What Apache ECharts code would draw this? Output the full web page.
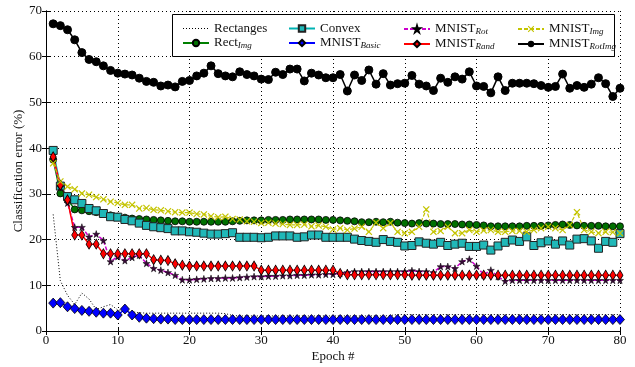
<!DOCTYPE html>
<html><head><meta charset="utf-8">
<script src="https://cdn.jsdelivr.net/npm/echarts@6/dist/echarts.min.js"></script>
<style>html,body{margin:0;padding:0;background:#fff}#c{width:635px;height:367px}</style>
</head><body><div id="c"></div>
<script>
const epochs = [1,2,3,4,5,6,7,8,9,10,11,12,13,14,15,16,17,18,19,20,21,22,23,24,25,26,27,28,29,30,31,32,33,34,35,36,37,38,39,40,41,42,43,44,45,46,47,48,49,50,51,52,53,54,55,56,57,58,59,60,61,62,63,64,65,66,67,68,69,70,71,72,73,74,75,76,77,78,79,80];
const xTicks = [0,10,20,30,40,50,60,70,80];
const yTicks = [0,10,20,30,40,50,60,70];

const rectanges = [25.5,11.0,7.8,5.8,8.3,7.0,4.7,5.3,5.8,4.6, 4.5,4.2,4.0,3.9,3.9,3.9,3.9,3.9,3.9,3.9, 3.9,3.9,3.9,3.9,3.8,3.4,3.3,3.3,3.3,3.3, 3.3,3.3,3.3,3.3,3.3,3.3,3.3,3.3,3.3,3.3, 3.3,3.3,3.3,3.3,3.3,3.3,3.3,3.4,3.6,3.6, 3.6,3.6,3.6,3.6,3.6,3.6,3.6,3.6,3.6,3.6, 3.6,3.6,3.6,3.6,3.6,3.6,3.6,3.6,3.6,3.6, 3.6,3.6,3.6,3.6,3.6,3.6,3.6,3.6,3.6,3.6];
const rectImg = [37.5,30.1,28.8,26.6,26.4,26.2,26.0,25.7,25.3,25.0, 24.8,24.6,24.5,24.4,24.3,24.2,24.1,24.0,24.0,23.9, 23.9,23.9,23.9,23.9,23.9,24.0,24.1,24.2,24.2,24.2, 24.3,24.3,24.3,24.4,24.4,24.4,24.4,24.4,24.3,24.3, 24.2,24.1,24.0,23.8,23.8,23.9,23.8,23.9,23.7,23.6, 23.5,23.6,23.5,23.5,23.4,23.4,23.4,23.3,23.3,23.2, 23.1,22.9,22.9,22.9,22.9,22.9,23.0,23.0,23.0,23.1, 23.2,23.3,23.2,23.1,23.0,23.0,23.0,22.9,22.9,22.9];
const convex = [39.5,31.7,29.4,28.7,27.9,26.8,26.3,25.7,25.0,24.9, 24.4,24.1,23.6,23.1,22.8,22.6,22.4,21.9,21.9,21.7, 21.6,21.4,21.2,21.2,21.3,21.5,20.5,20.5,20.5,20.4, 20.5,20.8,20.8,20.8,20.5,20.6,21.0,21.0,20.5,20.5, 20.5,20.5,20.1,19.8,19.6,19.4,20.0,19.6,19.4,18.6, 18.7,19.5,19.2,19.0,19.4,18.7,19.0,19.2,18.5,18.5, 18.8,17.7,18.6,19.4,19.9,19.6,20.6,18.7,19.3,19.7, 19.0,19.7,18.8,20.1,20.2,19.7,18.1,19.6,19.4,21.3];
const mnistBasic = [6.1,6.2,5.3,4.9,4.5,4.3,4.1,3.9,3.9,3.5, 4.8,3.5,3.0,2.8,2.7,2.6,2.6,2.5,2.5,2.5, 2.5,2.5,2.5,2.5,2.5,2.5,2.5,2.5,2.5,2.5, 2.5,2.5,2.5,2.5,2.5,2.5,2.5,2.5,2.5,2.5, 2.5,2.5,2.5,2.5,2.5,2.5,2.5,2.5,2.5,2.5, 2.5,2.5,2.5,2.5,2.5,2.5,2.5,2.5,2.5,2.5, 2.5,2.5,2.5,2.5,2.5,2.5,2.5,2.5,2.5,2.5, 2.5,2.5,2.5,2.5,2.5,2.5,2.5,2.5,2.5,2.5];
const mnistRot = [37.5,31.5,28.0,22.7,22.7,20.6,21.2,19.8,15.2,16.3, 15.4,16.1,16.6,14.8,13.7,13.3,12.8,12.2,11.2,11.2, 11.3,11.4,11.5,11.5,11.6,11.6,11.7,11.8,11.9,11.9, 12.0,12.0,12.1,12.1,12.2,12.2,12.3,12.3,12.4,12.4, 12.6,12.8,13.0,13.0,13.0,13.0,13.0,13.0,13.0,13.0, 13.2,13.0,13.0,12.8,14.1,14.1,13.7,15.2,15.7,14.2, 12.3,13.3,11.9,10.9,11.1,11.1,11.1,11.1,11.1,11.1, 11.1,11.1,11.1,11.1,11.1,11.1,11.1,11.1,11.1,11.1];
const mnistRand = [38.1,31.9,28.7,21.0,21.0,19.0,19.0,16.9,16.9,16.9, 16.9,16.9,16.9,16.9,15.6,15.5,15.4,14.7,14.4,14.2, 14.2,14.2,14.2,14.2,14.2,14.2,14.2,14.2,14.2,13.3, 13.3,13.3,13.3,13.3,13.3,13.3,13.3,13.3,13.3,13.3, 12.6,12.3,12.3,12.3,12.3,12.3,12.3,12.3,12.3,12.3, 12.2,12.2,12.2,12.2,12.2,12.2,12.2,12.2,12.2,12.2, 12.2,12.2,12.2,12.2,12.2,12.2,12.2,12.2,12.2,12.2, 12.2,12.2,12.2,12.2,12.2,12.2,12.2,12.2,12.2,12.2];
const mnistImg = [36.7,32.7,31.6,31.0,30.1,29.8,29.3,28.8,28.3,28.0, 27.6,27.6,26.8,26.9,26.5,26.4,26.2,26.0,25.9,25.9, 25.6,25.5,25.1,24.9,25.0,24.5,24.4,24.0,23.9,23.6, 23.7,23.5,23.4,23.2,23.2,23.3,22.9,23.1,22.8,22.2, 22.5,22.1,22.4,22.8,21.7,23.7,22.5,23.6,21.7,21.4, 21.7,22.8,26.6,21.7,21.9,22.8,21.4,21.4,22.1,21.7, 22.0,22.1,21.7,21.7,21.9,21.9,21.7,22.1,22.5,22.8, 22.5,22.1,23.2,26.0,22.1,21.7,21.4,21.7,21.6,21.4];
const mnistRotImg = [67.2,66.8,65.9,63.7,60.9,59.4,58.9,58.0,57.0,56.4, 56.2,56.0,55.3,54.6,54.4,53.6,53.8,53.4,54.6,54.8, 55.8,56.4,58.0,56.3,55.8,55.6,56.7,56.1,55.8,55.1, 55.0,56.6,56.1,57.3,57.3,54.7,56.4,56.0,55.4,55.4, 56.1,52.5,56.0,54.8,57.1,54.0,56.3,53.8,54.1,54.2, 55.9,54.0,53.6,52.6,55.3,54.4,55.6,55.1,56.7,53.6, 53.5,52.1,55.6,52.6,54.2,54.2,54.2,54.1,53.7,53.3, 53.5,56.2,53.1,53.7,53.3,54.0,55.4,54.1,51.3,53.1];

const seriesNames = ['Rectanges','Rect_Img','Convex','MNIST_Basic','MNIST_Rot','MNIST_Rand','MNIST_Img','MNIST_RotImg'];
const legendLabels = {
  'Rectanges': '{n|Rectanges}',
  'Rect_Img': '{n|Rect}{s|Img}',
  'Convex': '{n|Convex}',
  'MNIST_Basic': '{n|MNIST}{s|Basic}',
  'MNIST_Rot': '{n|MNIST}{s|Rot}',
  'MNIST_Rand': '{n|MNIST}{s|Rand}',
  'MNIST_Img': '{n|MNIST}{s|Img}',
  'MNIST_RotImg': '{n|MNIST}{s|RotImg}'
};

const FONT = 'Liberation Serif';
const pairs = vals => epochs.map((e, i) => [e, vals[i]]);

const STAR = 'path://M50,0 L61,35 L98,35 L68,57 L79,91 L50,70 L21,91 L32,57 L2,35 L39,35 Z';
const XMARK = 'path://M0,1.2 L1.2,0 L5,3.8 L8.8,0 L10,1.2 L6.2,5 L10,8.8 L8.8,10 L5,6.2 L1.2,10 L0,8.8 L3.8,5 Z';

const richText = {
  n: {fontFamily: FONT, fontSize: 13, color: '#111', lineHeight: 15},
  s: {fontFamily: FONT, fontSize: 9, fontStyle: 'italic', color: '#111', lineHeight: 15, padding: [5, 0, 0, 0]}
};
function mkLegend(left, names) {
  return {
    orient: 'vertical', left: left, top: 17, itemGap: 1, itemWidth: 26, itemHeight: 8,
    data: names.map(n => n === 'Rectanges'
      ? {name: n, itemStyle: {opacity: 0}, lineStyle: {color: '#000', width: 1, type: [1, 2]}}
      : {name: n}),
    selectedMode: false, z: 6,
    formatter: n => legendLabels[n],
    textStyle: {fontFamily: FONT, fontSize: 13, color: '#111', rich: richText}
  };
}

const chart = echarts.init(document.getElementById('c'), null, {renderer: 'canvas'});
const axisCommon = {
  min: 0, interval: 10,
  axisLine: {show: true, lineStyle: {color: '#000', width: 1}},
  axisTick: {show: true, inside: true, length: 4, lineStyle: {color: '#000'}},
};
chart.setOption({
  animation: false,
  backgroundColor: '#fff',
  grid: {left: 46, right: 15, top: 11, bottom: 36, containLabel: false, outerBoundsMode: 'none'},
  graphic: [{type: 'rect', z: 5, shape: {x: 172.5, y: 14.5, width: 442, height: 42},
             style: {fill: '#fff', stroke: '#000', lineWidth: 1}}],
  legend: [
    mkLegend(177, ['Rectanges', 'Rect_Img']),
    mkLegend(283, ['Convex', 'MNIST_Basic']),
    mkLegend(398, ['MNIST_Rot', 'MNIST_Rand']),
    mkLegend(512, ['MNIST_Img', 'MNIST_RotImg'])
  ],
  xAxis: [
    Object.assign({type: 'value', max: 80, position: 'bottom',
      name: 'Epoch #', nameLocation: 'middle', nameGap: 19, nameMoveOverlap: false,
      nameTextStyle: {fontFamily: FONT, fontSize: 13, color: '#111'},
      axisLabel: {fontFamily: FONT, fontSize: 13, color: '#111', margin: 3},
      splitLine: {show: true, lineStyle: {color: '#000', type: [1, 3], width: 1}}}, axisCommon),
    Object.assign({type: 'value', max: 80, position: 'top', axisLabel: {show: false}, splitLine: {show: false}}, axisCommon)
  ],
  yAxis: [
    Object.assign({type: 'value', max: 70, position: 'left',
      name: 'Classification error (%)', nameLocation: 'middle', nameGap: 21, nameMoveOverlap: false,
      nameTextStyle: {fontFamily: FONT, fontSize: 13, color: '#111'},
      axisLabel: {fontFamily: FONT, fontSize: 13, color: '#111', margin: 4},
      splitLine: {show: true, lineStyle: {color: '#000', type: [1, 3], width: 1}}}, axisCommon),
    Object.assign({type: 'value', max: 70, position: 'right', axisLabel: {show: false}, splitLine: {show: false}}, axisCommon)
  ],
  series: [
    {name: 'Rectanges', type: 'line', data: pairs(rectanges), symbol: 'none', z: 2,
      lineStyle: {color: '#000', width: 1, type: [1, 2]}, itemStyle: {color: '#000'}},
    {name: 'Rect_Img', type: 'line', data: pairs(rectImg), symbol: 'circle', symbolSize: 7, z: 2,
      lineStyle: {color: '#008000', width: 1.5}, itemStyle: {color: '#007000', borderColor: '#000', borderWidth: 0.8}},
    {name: 'Convex', type: 'line', data: pairs(convex), symbol: 'rect', symbolSize: 8, z: 2,
      lineStyle: {color: '#00b3b3', width: 1.5}, itemStyle: {color: '#20b8b8', borderColor: '#222', borderWidth: 1}},
    {name: 'MNIST_Basic', type: 'line', data: pairs(mnistBasic), symbol: 'diamond', symbolSize: [9, 10], z: 2,
      lineStyle: {color: '#0000ff', width: 1.5}, itemStyle: {color: '#0000ff', borderColor: '#000', borderWidth: 0.8}},
    {name: 'MNIST_Rot', type: 'line', data: pairs(mnistRot), symbol: STAR, symbolSize: 7, z: 2,
      lineStyle: {color: '#cc00cc', width: 1.5, type: [4, 2]}, itemStyle: {color: '#3a0a3a', borderColor: '#000', borderWidth: 0.5}},
    {name: 'MNIST_Rand', type: 'line', data: pairs(mnistRand), symbol: 'diamond', symbolSize: [6, 10], z: 2,
      lineStyle: {color: '#ff0000', width: 1.5}, itemStyle: {color: '#ff0000', borderColor: '#000', borderWidth: 0.8}},
    {name: 'MNIST_Img', type: 'line', data: pairs(mnistImg), symbol: XMARK, symbolSize: 7, z: 2,
      lineStyle: {color: '#c4c400', width: 1.2, type: [4, 2]}, itemStyle: {color: '#c4c400'}},
    {name: 'MNIST_RotImg', type: 'line', data: pairs(mnistRotImg), symbol: 'circle', symbolSize: 8, z: 2,
      lineStyle: {color: '#000', width: 1.5}, itemStyle: {color: '#000', borderColor: '#000'}}
  ]
});
</script>
</body></html>
